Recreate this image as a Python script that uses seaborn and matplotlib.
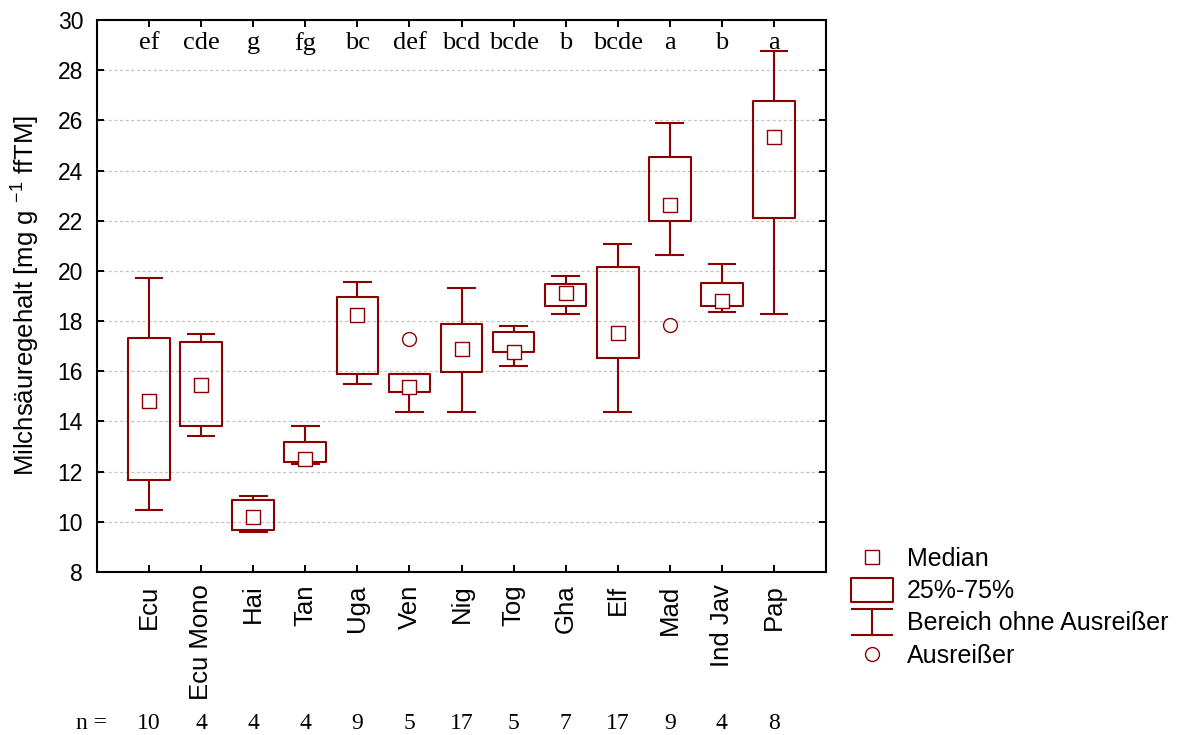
import numpy as np
import pandas as pd
import matplotlib
matplotlib.use("Agg")
import matplotlib.pyplot as plt
from matplotlib.path import Path
from matplotlib.lines import Line2D
from matplotlib import transforms
import seaborn as sns

# ---------------- data ----------------
categories = ["Ecu", "Ecu Mono", "Hai", "Tan", "Uga", "Ven", "Nig",
              "Tog", "Gha", "Elf", "Mad", "Ind Jav", "Pap"]
whisker_low = [10.48, 13.42, 9.61, 12.30, 15.49, 14.36, 14.36,
               16.20, 18.27, 14.36, 20.65, 18.36, 18.27]
q25 = [11.67, 13.82, 9.69, 12.38, 15.89, 15.16, 15.96,
       16.78, 18.59, 16.52, 22.00, 18.59, 22.10]
medians = [14.81, 15.45, 10.20, 12.52, 18.24, 15.37, 16.88,
           16.78, 19.11, 17.51, 22.61, 18.80, 25.32]
q75 = [17.33, 17.17, 10.88, 13.18, 18.97, 15.88, 17.87,
       17.55, 19.47, 20.17, 24.55, 19.53, 26.78]
whisker_high = [19.72, 17.49, 11.04, 13.82, 19.55, 15.88, 19.31,
                17.79, 19.78, 21.06, 25.90, 20.26, 28.78]
outlier_cats = ["Ven", "Mad"]
outlier_vals = [17.29, 17.83]
group_letters = ["ef", "cde", "g", "fg", "bc", "def", "bcd", "bcde",
                 "b", "bcde", "a", "b", "a"]
n_counts = [10, 4, 4, 4, 9, 5, 17, 5, 7, 17, 9, 4, 8]
y_ticks = [8, 10, 12, 14, 16, 18, 20, 22, 24, 26, 28, 30]
legend_labels = ["Median", "25%-75%", "Bereich ohne Ausreißer", "Ausreißer"]

RED = "#8b0000"

# long-form frame: five summary values per group reproduce the box statistics
rows = []
for c, a, b, m, d, e in zip(categories, whisker_low, q25, medians, q75, whisker_high):
    for v in (a, b, m, d, e):
        rows.append({"Herkunft": c, "Wert": v})
df = pd.DataFrame(rows)
med_df = pd.DataFrame({"Herkunft": categories, "Wert": medians})
out_df = pd.DataFrame({"Herkunft": outlier_cats, "Wert": outlier_vals})

# ---------------- style ----------------
sns.set_theme(style="white")
plt.rcParams["font.family"] = ["Liberation Sans", "DejaVu Sans"]
plt.rcParams["mathtext.default"] = "regular"
for k in ("text.color", "axes.labelcolor", "xtick.color", "ytick.color"):
    plt.rcParams[k] = "black"

fig = plt.figure(figsize=(11.89, 7.35), dpi=100)
ax = fig.add_axes([97 / 1189, 1 - 572 / 735, 729 / 1189, 552 / 735])

sns.boxplot(data=df, x="Herkunft", y="Wert", order=categories, whis=np.inf,
            width=0.80, fill=False, color=RED, linecolor=RED, linewidth=1.5,
            medianprops={"visible": False}, ax=ax)

# cap widths narrower than box
for ln in ax.lines:
    xd = np.asarray(ln.get_xdata(), dtype=float)
    yd = np.asarray(ln.get_ydata(), dtype=float)
    if ln.get_visible() and len(xd) == 2 and yd[0] == yd[1] and xd[0] != xd[1]:
        c = xd.mean()
        ln.set_xdata([c - 0.275, c + 0.275])
        ln.set_solid_capstyle("butt")

sns.stripplot(data=med_df, x="Herkunft", y="Wert", order=categories, jitter=False,
              marker="s", size=10, color="white", edgecolor=RED, linewidth=1,
              zorder=4, ax=ax)
sns.stripplot(data=out_df, x="Herkunft", y="Wert", order=categories, jitter=False,
              marker="o", size=10, color="white", edgecolor=RED, linewidth=1,
              zorder=4, ax=ax)

# ---------------- axes ----------------
ax.set_xlim(-1, 13)
ax.set_ylim(8, 30)
ax.set_yticks(y_ticks)
ax.set_yticklabels([str(t) for t in y_ticks], fontsize=16.5, color="black")
ax.set_xticks(range(len(categories)))
ax.set_xticklabels(categories, rotation=90, fontsize=18.5, color="black")
ax.set_xlabel("")
ax.set_ylabel("Milchsäuregehalt [mg g $^{-1}$ ffTM]", fontsize=18.5, color="black")
ax.yaxis.set_label_coords(-0.075, 0.5)

ax.yaxis.grid(True, linestyle=(0, (2.5, 2)), color="#c4c4c4", linewidth=0.9)
ax.xaxis.grid(False)
ax.set_axisbelow(True)

for s in ax.spines.values():
    s.set_visible(True)
    s.set_color("black")
    s.set_linewidth(1.5)

ax.tick_params(axis="both", which="major", direction="in", length=5, width=1.4,
               color="black", labelcolor="black", top=True, right=True,
               bottom=True, left=True)
ax.tick_params(axis="y", pad=10)
ax.tick_params(axis="x", pad=9)

serif = ["Liberation Serif", "DejaVu Serif"]
# significance letters
for i, lab in enumerate(group_letters):
    ax.text(i, 29.08, lab, ha="center", va="center", fontsize=19,
            family=serif, color="black")

# n row
trans = transforms.blended_transform_factory(ax.transData, ax.transAxes)
ax.text(-1.1, -0.274, "n =", ha="center", va="center", fontsize=17,
        family=serif, transform=trans, clip_on=False, color="black")
for i, n in enumerate(n_counts):
    ax.text(i, -0.274, str(n), ha="center", va="center", fontsize=17,
            family=serif, transform=trans, clip_on=False, color="black")

# ---------------- legend ----------------
box_path = Path([(-0.5, -0.3), (0.5, -0.3), (0.5, 0.3), (-0.5, 0.3), (-0.5, -0.3)],
                [Path.MOVETO, Path.LINETO, Path.LINETO, Path.LINETO, Path.CLOSEPOLY])
ibeam_path = Path([(-0.5, 0.32), (0.5, 0.32), (0, 0.32), (0, -0.32),
                   (-0.5, -0.32), (0.5, -0.32)],
                  [Path.MOVETO, Path.LINETO, Path.MOVETO, Path.LINETO,
                   Path.MOVETO, Path.LINETO])
handles = [
    Line2D([], [], linestyle="None", marker="s", markersize=10,
           markerfacecolor="white", markeredgecolor=RED, markeredgewidth=1),
    Line2D([], [], linestyle="None", marker=box_path, markersize=30,
           markerfacecolor="white", markeredgecolor=RED, markeredgewidth=1.5),
    Line2D([], [], linestyle="None", marker=ibeam_path, markersize=30,
           markerfacecolor="none", markeredgecolor=RED, markeredgewidth=1.5),
    Line2D([], [], linestyle="None", marker="o", markersize=10,
           markerfacecolor="white", markeredgecolor=RED, markeredgewidth=1),
]
leg = fig.legend(handles, legend_labels, loc="upper left",
                 bbox_to_anchor=(857 / 1189, 1 - 547 / 735),
                 bbox_transform=fig.transFigure, frameon=False, fontsize=18,
                 handlelength=1.2, handletextpad=0.8, labelspacing=0.33,
                 borderpad=0, borderaxespad=0, numpoints=1)
for t in leg.get_texts():
    t.set_color("black")

fig.savefig("out.png", dpi=100)
